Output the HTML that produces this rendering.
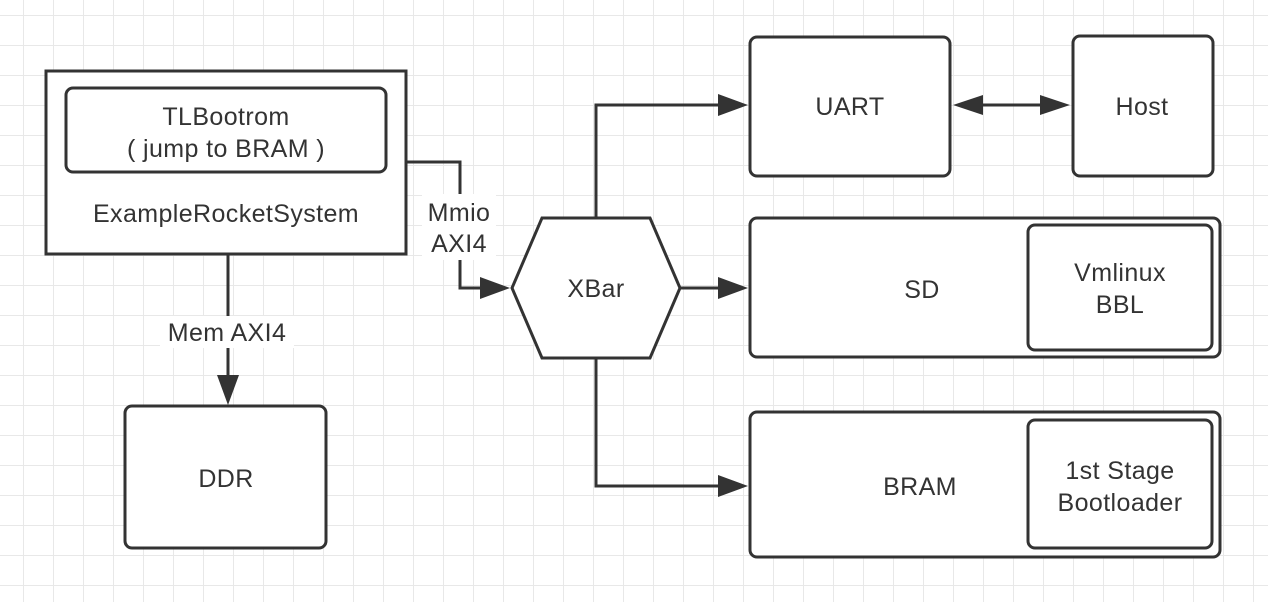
<!DOCTYPE html>
<html><head><style>
html,body{margin:0;padding:0;background:#fff;}
svg{display:block;}
text{font-family:"Liberation Sans",sans-serif;font-size:25px;letter-spacing:0.4px;fill:#333;text-anchor:middle;}
</style></head><body>
<svg width="1268" height="602" xmlns="http://www.w3.org/2000/svg">
<defs>
<pattern id="g" x="23" y="15" width="30" height="30" patternUnits="userSpaceOnUse">
<path d="M0 0H30M0 0V30" stroke="#e8e8e8" stroke-width="2" fill="none"/>
</pattern>
</defs>
<rect width="1268" height="602" fill="url(#g)"/>
<g stroke="#333" stroke-width="3" fill="#fff">
<rect x="46" y="71" width="360" height="183"/>
<rect x="66" y="88" width="320" height="84" rx="7"/>
<rect x="125" y="406" width="201" height="142" rx="7"/>
<rect x="750" y="37" width="200" height="139" rx="7"/>
<rect x="1073" y="36" width="140" height="140" rx="7"/>
<rect x="750" y="218" width="470" height="139" rx="7"/>
<rect x="1028" y="225" width="184" height="125" rx="7"/>
<rect x="750" y="412" width="470" height="145" rx="7"/>
<rect x="1028" y="420" width="184" height="128" rx="7"/>
<polygon points="542,218 650,218 680,288 650,358 542,358 512,288"/>
</g>
<g stroke="#333" stroke-width="3" fill="none">
<path d="M406 162H460V288H482"/>
<path d="M228 254V378"/>
<path d="M596 218V105H720"/>
<path d="M596 358V486H720"/>
<path d="M680 288H720"/>
<path d="M978 105H1045"/>
</g>
<g fill="#333">
<polygon points="510,288 480,277 480,299"/>
<polygon points="228,405 217,375 239,375"/>
<polygon points="748,105 718,94 718,116"/>
<polygon points="748,486 718,475 718,497"/>
<polygon points="748,288 718,277 718,299"/>
<polygon points="953,105 983,95 983,115"/>
<polygon points="1070,105 1040,95 1040,115"/>
</g>
<rect x="422" y="194" width="74" height="66" fill="#fff"/>
<rect x="160" y="316" width="134" height="32" fill="#fff"/>
<text x="226" y="125">TLBootrom</text>
<text x="226" y="157">( jump to BRAM )</text>
<text x="226" y="222">ExampleRocketSystem</text>
<text x="459" y="221">Mmio</text>
<text x="459" y="252">AXI4</text>
<text x="227" y="341">Mem AXI4</text>
<text x="226" y="487">DDR</text>
<text x="596" y="297">XBar</text>
<text x="850" y="115">UART</text>
<text x="1142" y="115">Host</text>
<text x="922" y="298">SD</text>
<text x="1120" y="281">Vmlinux</text>
<text x="1120" y="313">BBL</text>
<text x="920" y="495">BRAM</text>
<text x="1120" y="479">1st Stage</text>
<text x="1120" y="511">Bootloader</text>
</svg>
</body></html>
